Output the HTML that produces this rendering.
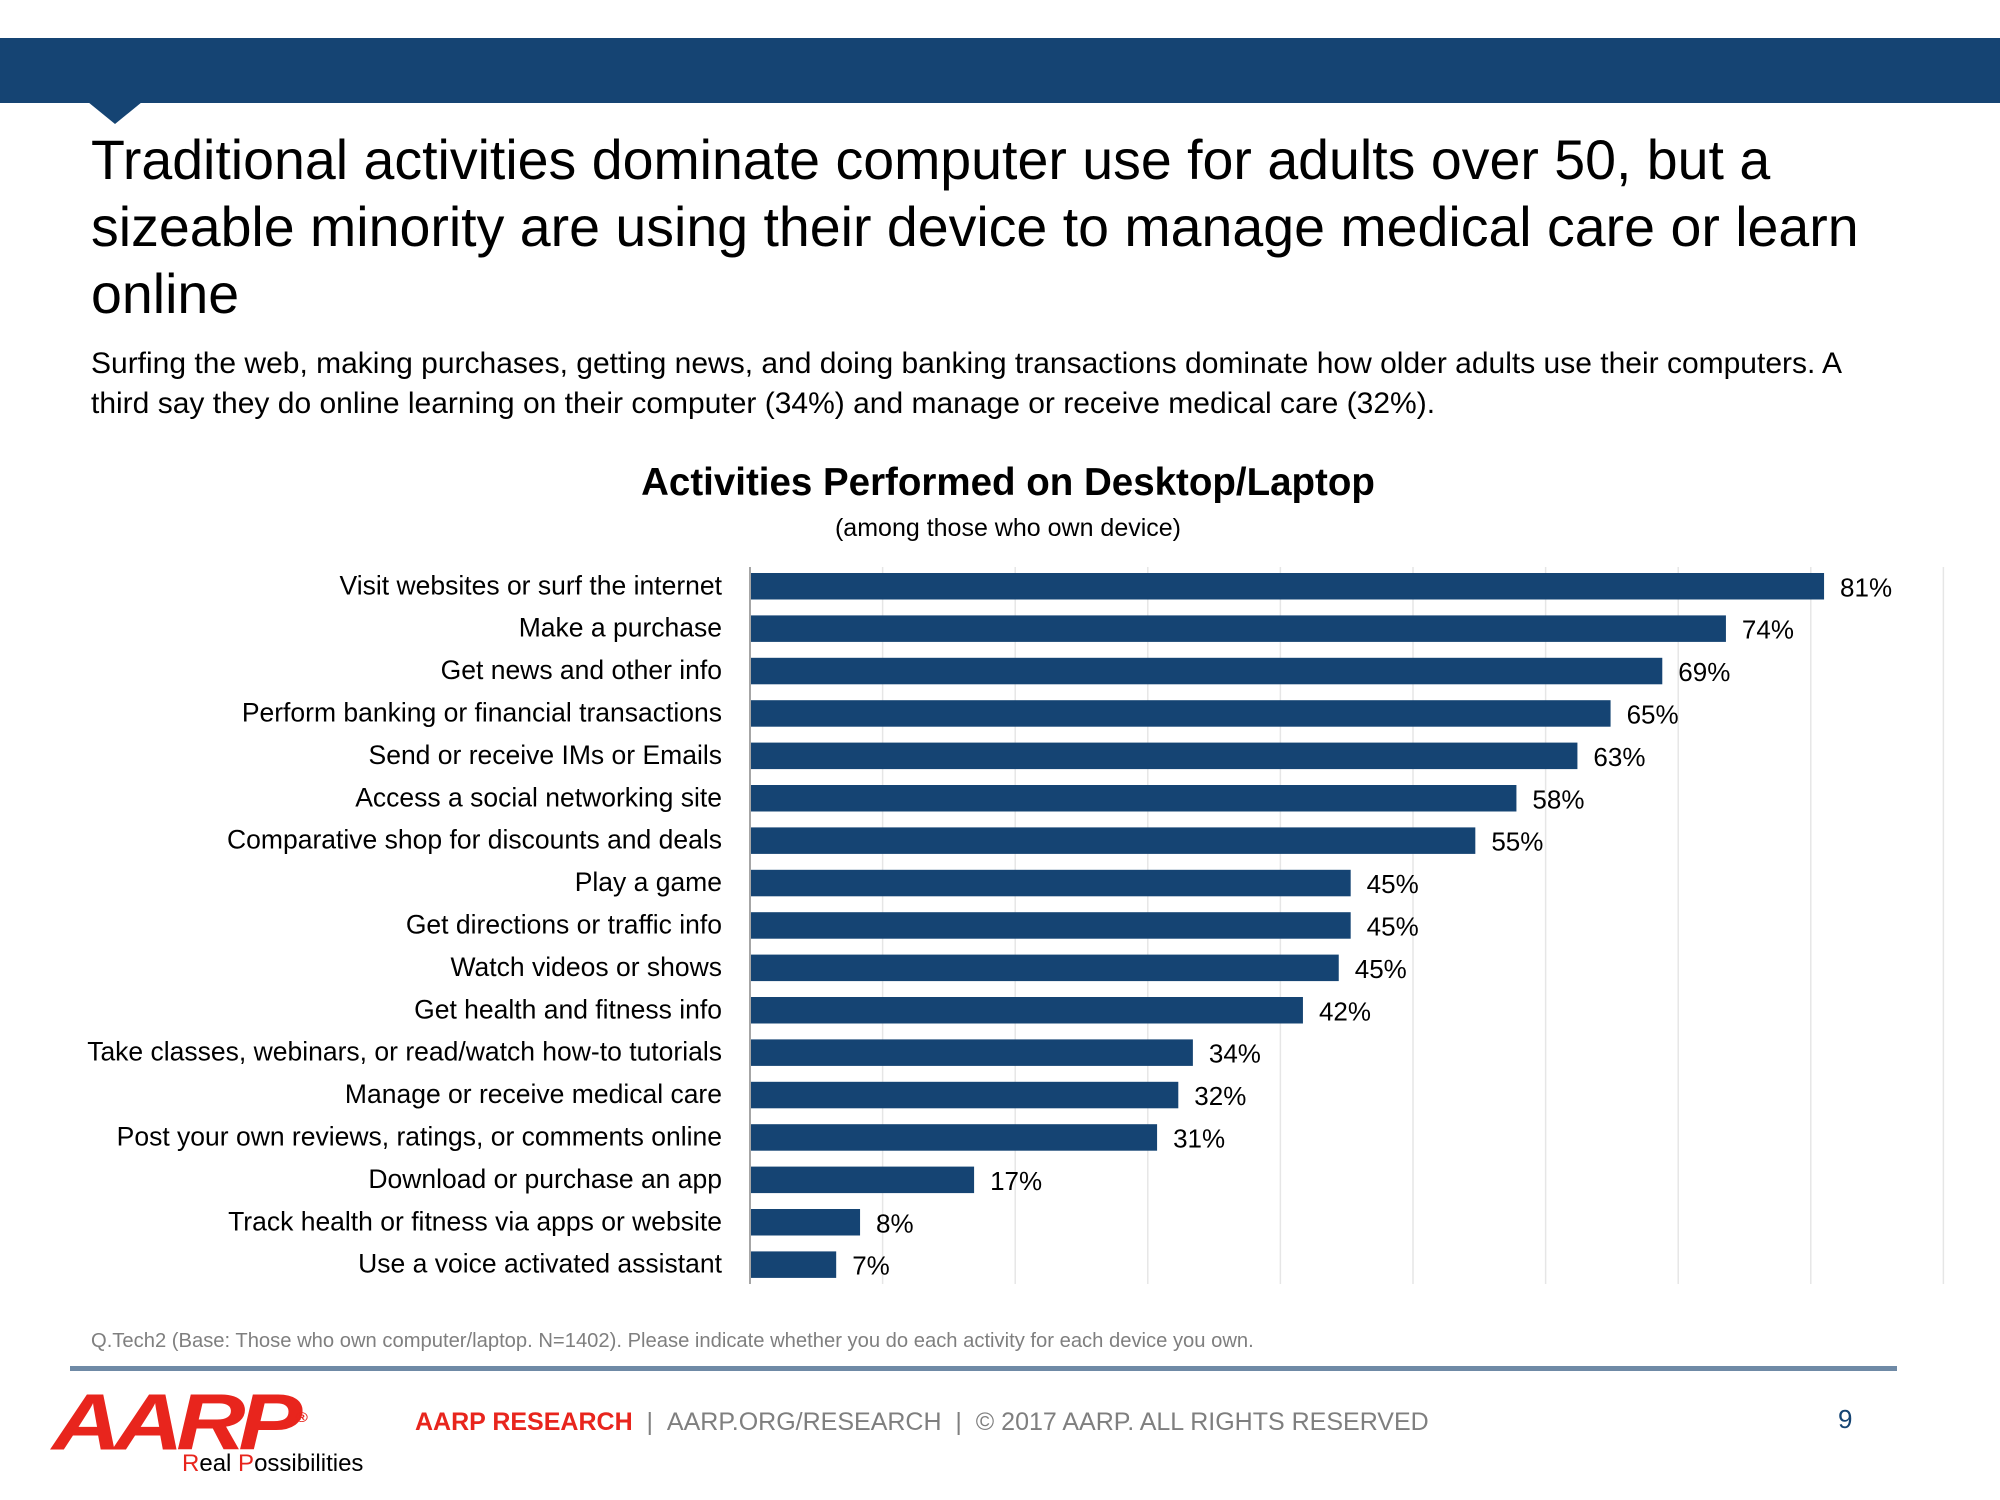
<!DOCTYPE html>
<html><head><meta charset="utf-8">
<style>
body{margin:0;width:2000px;height:1500px;background:#fff;position:relative;overflow:hidden;font-family:"Liberation Sans",Arial,sans-serif;}
.abs{position:absolute;}
</style></head>
<body>
<div class="abs" style="left:0;top:38px;width:2000px;height:65px;background:#154473;"></div>
<svg class="abs" style="left:88px;top:102px" width="54" height="24"><polygon points="0,0 54,0 27,22" fill="#154473"/></svg>
<div class="abs" style="left:91px;top:127px;width:1880px;font-size:55.5px;line-height:67px;color:#000;">Traditional activities dominate computer use for adults over 50, but a sizeable minority are using their device to manage medical care or learn online</div>
<div class="abs" style="left:91px;top:344px;width:1900px;font-size:30px;line-height:40px;color:#000;white-space:nowrap;">Surfing the web, making purchases, getting news, and doing banking transactions dominate how older adults use their computers. A<br>third say they do online learning on their computer (34%) and manage or receive medical care (32%).</div>
<div class="abs" style="left:0;width:2016px;top:461px;text-align:center;font-size:38.5px;font-weight:bold;">Activities Performed on Desktop/Laptop</div>
<div class="abs" style="left:0;width:2016px;top:514px;text-align:center;font-size:25px;">(among those who own device)</div>

<svg class="abs" id="chart" style="left:0;top:0" width="2000" height="1320"></svg>

<div class="abs" style="left:91px;top:1330px;font-size:20.2px;color:#7f7f7f;">Q.Tech2 (Base: Those who own computer/laptop. N=1402). Please indicate whether you do each activity for each device you own.</div>
<div class="abs" style="left:70px;top:1366px;width:1827px;height:5px;background:#6f8aa6;"></div>
<div class="abs" style="left:52px;top:1372px;font-size:80px;font-weight:bold;font-style:italic;color:#e8251d;letter-spacing:-6px;transform:scaleX(1.2);transform-origin:left;line-height:90px;">AARP<sup style="font-size:14px;letter-spacing:0">®</sup></div>
<div class="abs" style="left:182px;top:1450px;font-size:24px;color:#000;"><span style="color:#e8251d">R</span>eal <span style="color:#e8251d">P</span>ossibilities</div>
<div class="abs" style="left:415px;top:1408px;font-size:25px;color:#7f7f7f;"><span style="color:#e8251d;font-weight:bold">AARP RESEARCH</span> &nbsp;| &nbsp;AARP.ORG/RESEARCH &nbsp;| &nbsp;© 2017 AARP. ALL RIGHTS RESERVED</div>
<div class="abs" style="left:1838px;top:1404px;font-size:26px;color:#154473;">9</div>

<script>
const categories = ["Visit websites or surf the internet","Make a purchase","Get news and other info","Perform banking or financial transactions","Send or receive IMs or Emails","Access a social networking site","Comparative shop for discounts and deals","Play a game","Get directions or traffic info","Watch videos or shows","Get health and fitness info","Take classes, webinars, or read/watch how-to tutorials","Manage or receive medical care","Post your own reviews, ratings, or comments online","Download or purchase an app","Track health or fitness via apps or website","Use a voice activated assistant"];
const values = [81,74,69,65,63,58,55,45,45,45,42,34,32,31,17,8,7];
const barLengths = [81,73.6,68.8,64.9,62.4,57.8,54.7,45.3,45.3,44.4,41.7,33.4,32.3,30.7,16.9,8.3,6.5];
const valueLabels = ["81%","74%","69%","65%","63%","58%","55%","45%","45%","45%","42%","34%","32%","31%","17%","8%","7%"];
const gridTicks = [10,20,30,40,50,60,70,80,90];

const svg = document.getElementById('chart');
const NS = 'http://www.w3.org/2000/svg';
const x0 = 750, pxPer = 13.26, yTop = 567, yBot = 1284, pitch = 42.4, barH = 26.5;
const xScale = v => x0 + v * pxPer;
const yScale = i => 573 + i * pitch;
function mk(tag, attrs){const e=document.createElementNS(NS,tag);for(const k in attrs)e.setAttribute(k,attrs[k]);svg.appendChild(e);return e;}

gridTicks.forEach(t=>{
  const g = mk('line',{x1:xScale(t),x2:xScale(t),y1:yTop,y2:yBot,stroke:'#e6e6e6','stroke-width':1.5});
  
  
});
categories.forEach((c,i)=>{
  const y = yScale(i);
  const r = mk('rect',{x:x0,y:y,width:xScale(barLengths[i])-x0,height:barH,fill:'#154473'});
  
  
  const l = mk('text',{x:722,y:y+barH/2+8,'text-anchor':'end','font-size':26.5,'font-family':'Liberation Sans, sans-serif',fill:'#000'});
  l.textContent = c;
  
  
  const v = mk('text',{x:xScale(barLengths[i])+16,y:y+barH/2+10,'font-size':26,'font-family':'Liberation Sans, sans-serif',fill:'#000'});
  v.textContent = valueLabels[i];
  
  
});
const ax = mk('line',{x1:x0,x2:x0,y1:yTop,y2:yBot,stroke:'#a6a6a6','stroke-width':2});


</script>
</body></html>
